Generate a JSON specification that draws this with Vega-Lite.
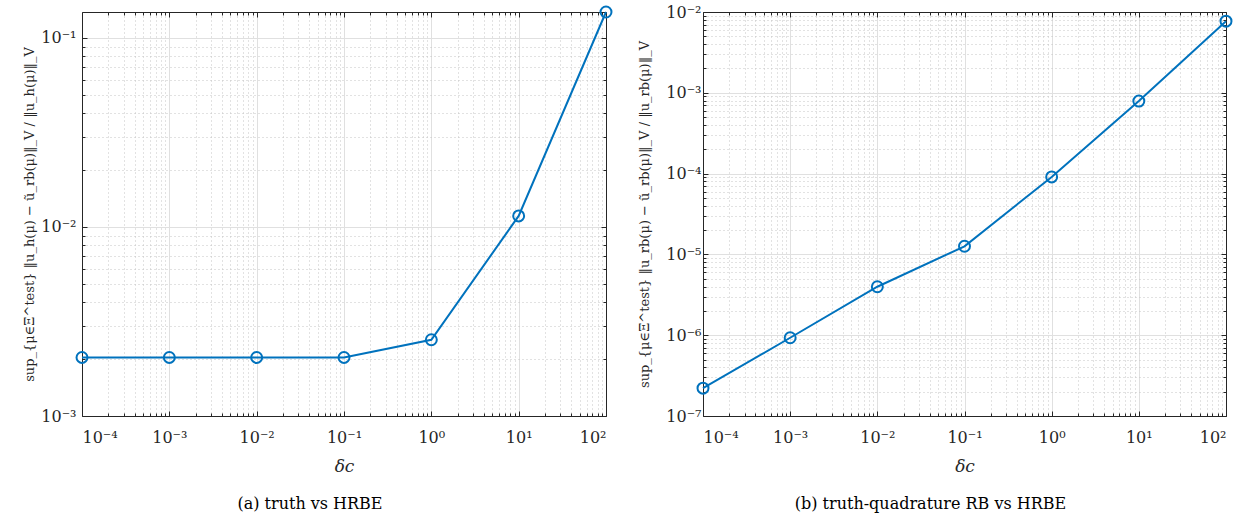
{
  "$schema": "https://vega.github.io/schema/vega-lite/v6.json",
  "padding": {"left": 23, "top": 2, "right": 20, "bottom": 4},
  "bounds": "flush",
  "spacing": 97,
  "background": "white",
  "config": {
    "view": {"stroke": null}
  },
  "datasets": {
    "a": [
      {"delta": 0.0001, "err": 0.00204},
      {"delta": 0.001, "err": 0.00204},
      {"delta": 0.01, "err": 0.00204},
      {"delta": 0.1, "err": 0.00204},
      {"delta": 1, "err": 0.00253},
      {"delta": 10, "err": 0.01143},
      {"delta": 100, "err": 0.137}
    ],
    "b": [
      {"delta": 0.0001, "err": 2.21e-7},
      {"delta": 0.001, "err": 9.3e-7},
      {"delta": 0.01, "err": 3.98e-6},
      {"delta": 0.1, "err": 1.26e-5},
      {"delta": 1, "err": 9.1e-5},
      {"delta": 10, "err": 7.9e-4},
      {"delta": 100, "err": 7.7e-3}
    ]
  },
  "hconcat": [
    {
      "width": 524,
      "height": 404,
      "data": {"name": "a"},
      "title": {"text": "(a) truth vs HRBE", "orient": "bottom", "font": "DejaVu Serif", "fontSize": 16, "fontWeight": "normal", "color": "#000000", "dx": -34, "offset": 22},
      "resolve": {"axis": {"x": "independent", "y": "independent"}},
      "layer": [
        {
          "mark": {"type": "point", "opacity": 0},
          "encoding": {
            "x": {"field": "delta", "type": "quantitative", "scale": {"type": "log", "domain": [0.0001, 100], "nice": false},
              "axis": {"orient": "bottom", "offset": 0, "values": [0.0002,0.0003,0.0004,0.0005,0.0006,0.0007,0.0008,0.0009,0.002,0.003,0.004,0.005,0.006,0.007,0.008,0.009,0.02,0.03,0.04,0.05,0.06,0.07,0.08,0.09,0.2,0.3,0.4,0.5,0.6,0.7,0.8,0.9,2,3,4,5,6,7,8,9,20,30,40,50,60,70,80,90],
                "labels": false, "grid": true, "gridDash": [1, 3], "gridColor": "#c4c4c4", "gridWidth": 1, "tickSize": -3, "tickColor": "#262626", "domain": false, "title": null}},
            "y": {"field": "err", "type": "quantitative", "scale": {"type": "log", "domain": [0.001, 0.137], "nice": false},
              "axis": {"orient": "left", "offset": 0, "values": [0.002,0.003,0.004,0.005,0.006,0.007,0.008,0.009,0.02,0.03,0.04,0.05,0.06,0.07,0.08,0.09],
                "labels": false, "grid": true, "gridDash": [1, 3], "gridColor": "#c4c4c4", "gridWidth": 1, "tickSize": -3, "tickColor": "#262626", "domain": false, "title": null}}
          }
        },
        {
          "mark": {"type": "point", "opacity": 0},
          "encoding": {
            "x": {"field": "delta", "type": "quantitative", "scale": {"type": "log", "domain": [0.0001, 100], "nice": false},
              "axis": {"orient": "bottom", "offset": 0, "values": [0.0001, 0.001, 0.01, 0.1, 1, 10, 100],
                "labelExpr": "'10' + replace(replace(replace(replace(replace(replace(replace(replace(replace('' + round(log(datum.value)/LN10), '-', '⁻'), '0', '⁰'), '1', '¹'), '2', '²'), '3', '³'), '4', '⁴'), '5', '⁵'), '6', '⁶'), '7', '⁷')",
                "labelFont": "DejaVu Serif", "labelFontSize": 16, "labelColor": "#262626", "labelPadding": 18,
                "grid": true, "gridColor": "#e0e0e0", "gridWidth": 1, "tickSize": -5, "tickColor": "#262626", "domain": true, "domainColor": "#262626", "domainWidth": 1,
                "title": "δc", "titleFont": "DejaVu Serif", "titleFontSize": 17, "titleFontStyle": "italic", "titleFontWeight": "normal", "titleColor": "#262626", "titlePadding": 13}},
            "y": {"field": "err", "type": "quantitative", "scale": {"type": "log", "domain": [0.001, 0.137], "nice": false},
              "axis": {"orient": "left", "offset": 0, "values": [0.001, 0.01, 0.1],
                "labelExpr": "'10' + replace(replace(replace(replace(replace(replace(replace(replace(replace('' + round(log(datum.value)/LN10), '-', '⁻'), '0', '⁰'), '1', '¹'), '2', '²'), '3', '³'), '4', '⁴'), '5', '⁵'), '6', '⁶'), '7', '⁷')",
                "labelFont": "DejaVu Serif", "labelFontSize": 16, "labelColor": "#262626", "labelPadding": 11,
                "grid": true, "gridColor": "#e0e0e0", "gridWidth": 1, "tickSize": -5, "tickColor": "#262626", "domain": true, "domainColor": "#262626", "domainWidth": 1,
                "title": "sup_{μ∈Ξ^test} ‖u_h(μ) − ũ_rb(μ)‖_V / ‖u_h(μ)‖_V", "titleFont": "DejaVu Serif", "titleFontSize": 13, "titleFontWeight": "normal", "titleColor": "#262626", "titlePadding": 4}}
          }
        },
        {
          "mark": {"type": "point", "opacity": 0},
          "encoding": {
            "x": {"field": "delta", "type": "quantitative", "scale": {"type": "log", "domain": [0.0001, 100], "nice": false},
              "axis": {"orient": "top", "offset": 0, "values": [0.0002,0.0003,0.0004,0.0005,0.0006,0.0007,0.0008,0.0009,0.002,0.003,0.004,0.005,0.006,0.007,0.008,0.009,0.02,0.03,0.04,0.05,0.06,0.07,0.08,0.09,0.2,0.3,0.4,0.5,0.6,0.7,0.8,0.9,2,3,4,5,6,7,8,9,20,30,40,50,60,70,80,90],
                "labels": false, "grid": false, "tickSize": -3, "tickColor": "#262626", "domain": false, "title": null}},
            "y": {"field": "err", "type": "quantitative", "scale": {"type": "log", "domain": [0.001, 0.137], "nice": false},
              "axis": {"orient": "right", "offset": 0, "values": [0.002,0.003,0.004,0.005,0.006,0.007,0.008,0.009,0.02,0.03,0.04,0.05,0.06,0.07,0.08,0.09],
                "labels": false, "grid": false, "tickSize": -3, "tickColor": "#262626", "domain": false, "title": null}}
          }
        },
        {
          "mark": {"type": "point", "opacity": 0},
          "encoding": {
            "x": {"field": "delta", "type": "quantitative", "scale": {"type": "log", "domain": [0.0001, 100], "nice": false},
              "axis": {"orient": "top", "offset": 0, "values": [0.0001, 0.001, 0.01, 0.1, 1, 10, 100], "labels": false, "grid": false, "tickSize": -5, "tickColor": "#262626", "domain": true, "domainColor": "#262626", "domainWidth": 1, "title": null}},
            "y": {"field": "err", "type": "quantitative", "scale": {"type": "log", "domain": [0.001, 0.137], "nice": false},
              "axis": {"orient": "right", "offset": 0, "values": [0.001, 0.01, 0.1], "labels": false, "grid": false, "tickSize": -5, "tickColor": "#262626", "domain": true, "domainColor": "#262626", "domainWidth": 1, "title": null}}
          }
        },
        {
          "mark": {"type": "line", "color": "#0072BD", "strokeWidth": 2},
          "encoding": {
            "x": {"field": "delta", "type": "quantitative", "axis": null},
            "y": {"field": "err", "type": "quantitative", "axis": null}
          }
        },
        {
          "mark": {"type": "point", "shape": "circle", "filled": false, "color": "#0072BD", "size": 120, "strokeWidth": 2, "opacity": 1},
          "encoding": {
            "x": {"field": "delta", "type": "quantitative", "axis": null},
            "y": {"field": "err", "type": "quantitative", "axis": null}
          }
        }
      ]
    },
    {
      "width": 523,
      "height": 404,
      "data": {"name": "b"},
      "title": {"text": "(b) truth-quadrature RB vs HRBE", "orient": "bottom", "font": "DejaVu Serif", "fontSize": 16, "fontWeight": "normal", "color": "#000000", "dx": -34, "offset": 22},
      "resolve": {"axis": {"x": "independent", "y": "independent"}},
      "layer": [
        {
          "mark": {"type": "point", "opacity": 0},
          "encoding": {
            "x": {"field": "delta", "type": "quantitative", "scale": {"type": "log", "domain": [0.0001, 100], "nice": false},
              "axis": {"orient": "bottom", "offset": 0, "values": [0.0002,0.0003,0.0004,0.0005,0.0006,0.0007,0.0008,0.0009,0.002,0.003,0.004,0.005,0.006,0.007,0.008,0.009,0.02,0.03,0.04,0.05,0.06,0.07,0.08,0.09,0.2,0.3,0.4,0.5,0.6,0.7,0.8,0.9,2,3,4,5,6,7,8,9,20,30,40,50,60,70,80,90],
                "labels": false, "grid": true, "gridDash": [1, 3], "gridColor": "#c4c4c4", "gridWidth": 1, "tickSize": -3, "tickColor": "#262626", "domain": false, "title": null}},
            "y": {"field": "err", "type": "quantitative", "scale": {"type": "log", "domain": [1e-7, 0.01], "nice": false},
              "axis": {"orient": "left", "offset": 0, "values": [2e-7,3e-7,4e-7,5e-7,6e-7,7e-7,8e-7,9e-7,2e-6,3e-6,4e-6,5e-6,6e-6,7e-6,8e-6,9e-6,2e-5,3e-5,4e-5,5e-5,6e-5,7e-5,8e-5,9e-5,0.0002,0.0003,0.0004,0.0005,0.0006,0.0007,0.0008,0.0009,0.002,0.003,0.004,0.005,0.006,0.007,0.008,0.009],
                "labels": false, "grid": true, "gridDash": [1, 3], "gridColor": "#c4c4c4", "gridWidth": 1, "tickSize": -3, "tickColor": "#262626", "domain": false, "title": null}}
          }
        },
        {
          "mark": {"type": "point", "opacity": 0},
          "encoding": {
            "x": {"field": "delta", "type": "quantitative", "scale": {"type": "log", "domain": [0.0001, 100], "nice": false},
              "axis": {"orient": "bottom", "offset": 0, "values": [0.0001, 0.001, 0.01, 0.1, 1, 10, 100],
                "labelExpr": "'10' + replace(replace(replace(replace(replace(replace(replace(replace(replace('' + round(log(datum.value)/LN10), '-', '⁻'), '0', '⁰'), '1', '¹'), '2', '²'), '3', '³'), '4', '⁴'), '5', '⁵'), '6', '⁶'), '7', '⁷')",
                "labelFont": "DejaVu Serif", "labelFontSize": 16, "labelColor": "#262626", "labelPadding": 18,
                "grid": true, "gridColor": "#e0e0e0", "gridWidth": 1, "tickSize": -5, "tickColor": "#262626", "domain": true, "domainColor": "#262626", "domainWidth": 1,
                "title": "δc", "titleFont": "DejaVu Serif", "titleFontSize": 17, "titleFontStyle": "italic", "titleFontWeight": "normal", "titleColor": "#262626", "titlePadding": 13}},
            "y": {"field": "err", "type": "quantitative", "scale": {"type": "log", "domain": [1e-7, 0.01], "nice": false},
              "axis": {"orient": "left", "offset": 0, "values": [1e-7, 1e-6, 1e-5, 0.0001, 0.001, 0.01],
                "labelExpr": "'10' + replace(replace(replace(replace(replace(replace(replace(replace(replace('' + round(log(datum.value)/LN10), '-', '⁻'), '0', '⁰'), '1', '¹'), '2', '²'), '3', '³'), '4', '⁴'), '5', '⁵'), '6', '⁶'), '7', '⁷')",
                "labelFont": "DejaVu Serif", "labelFontSize": 16, "labelColor": "#262626", "labelPadding": 7,
                "grid": true, "gridColor": "#e0e0e0", "gridWidth": 1, "tickSize": -5, "tickColor": "#262626", "domain": true, "domainColor": "#262626", "domainWidth": 1,
                "title": "sup_{μ∈Ξ^test} ‖u_rb(μ) − ũ_rb(μ)‖_V / ‖u_rb(μ)‖_V", "titleFont": "DejaVu Serif", "titleFontSize": 13, "titleFontWeight": "normal", "titleColor": "#262626", "titlePadding": 14}}
          }
        },
        {
          "mark": {"type": "point", "opacity": 0},
          "encoding": {
            "x": {"field": "delta", "type": "quantitative", "scale": {"type": "log", "domain": [0.0001, 100], "nice": false},
              "axis": {"orient": "top", "offset": 0, "values": [0.0002,0.0003,0.0004,0.0005,0.0006,0.0007,0.0008,0.0009,0.002,0.003,0.004,0.005,0.006,0.007,0.008,0.009,0.02,0.03,0.04,0.05,0.06,0.07,0.08,0.09,0.2,0.3,0.4,0.5,0.6,0.7,0.8,0.9,2,3,4,5,6,7,8,9,20,30,40,50,60,70,80,90],
                "labels": false, "grid": false, "tickSize": -3, "tickColor": "#262626", "domain": false, "title": null}},
            "y": {"field": "err", "type": "quantitative", "scale": {"type": "log", "domain": [1e-7, 0.01], "nice": false},
              "axis": {"orient": "right", "offset": 0, "values": [2e-7,3e-7,4e-7,5e-7,6e-7,7e-7,8e-7,9e-7,2e-6,3e-6,4e-6,5e-6,6e-6,7e-6,8e-6,9e-6,2e-5,3e-5,4e-5,5e-5,6e-5,7e-5,8e-5,9e-5,0.0002,0.0003,0.0004,0.0005,0.0006,0.0007,0.0008,0.0009,0.002,0.003,0.004,0.005,0.006,0.007,0.008,0.009],
                "labels": false, "grid": false, "tickSize": -3, "tickColor": "#262626", "domain": false, "title": null}}
          }
        },
        {
          "mark": {"type": "point", "opacity": 0},
          "encoding": {
            "x": {"field": "delta", "type": "quantitative", "scale": {"type": "log", "domain": [0.0001, 100], "nice": false},
              "axis": {"orient": "top", "offset": 0, "values": [0.0001, 0.001, 0.01, 0.1, 1, 10, 100], "labels": false, "grid": false, "tickSize": -5, "tickColor": "#262626", "domain": true, "domainColor": "#262626", "domainWidth": 1, "title": null}},
            "y": {"field": "err", "type": "quantitative", "scale": {"type": "log", "domain": [1e-7, 0.01], "nice": false},
              "axis": {"orient": "right", "offset": 0, "values": [1e-7, 1e-6, 1e-5, 0.0001, 0.001, 0.01], "labels": false, "grid": false, "tickSize": -5, "tickColor": "#262626", "domain": true, "domainColor": "#262626", "domainWidth": 1, "title": null}}
          }
        },
        {
          "mark": {"type": "line", "color": "#0072BD", "strokeWidth": 2},
          "encoding": {
            "x": {"field": "delta", "type": "quantitative", "axis": null},
            "y": {"field": "err", "type": "quantitative", "axis": null}
          }
        },
        {
          "mark": {"type": "point", "shape": "circle", "filled": false, "color": "#0072BD", "size": 120, "strokeWidth": 2, "opacity": 1},
          "encoding": {
            "x": {"field": "delta", "type": "quantitative", "axis": null},
            "y": {"field": "err", "type": "quantitative", "axis": null}
          }
        }
      ]
    }
  ]
}
